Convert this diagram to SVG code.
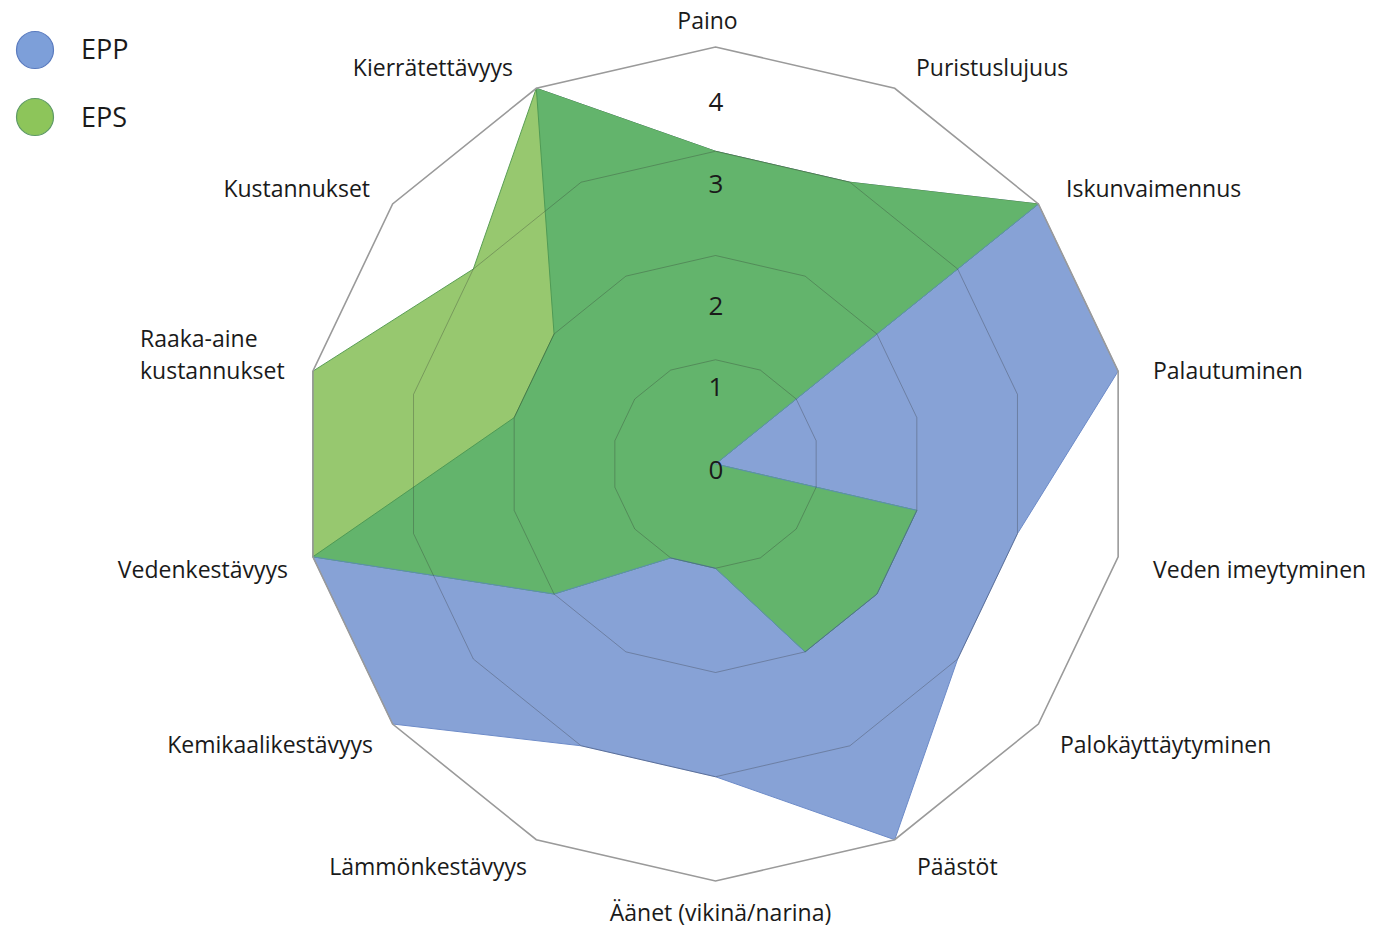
<svg xmlns="http://www.w3.org/2000/svg" width="1392" height="928" viewBox="0 0 1392 928">
<style>
.lbl{font-family:"Open Sans","Noto Sans","Liberation Sans",sans-serif;font-size:23px;fill:#1a1a1a}
.num{font-family:"Open Sans","Noto Sans","Liberation Sans",sans-serif;font-size:26px;fill:#1a1a1a;text-anchor:middle}
.leg{font-family:"Open Sans","Noto Sans","Liberation Sans",sans-serif;font-size:27px;fill:#1a1a1a}
.ring{fill:none;stroke:#303030;stroke-opacity:0.3;stroke-width:1}
.outer{fill:none;stroke:#9a9a9a;stroke-width:1.6}
</style>
<defs>
<clipPath id="eppClip">
<polygon points="715.5,151.25 849.9,182.21 1038.38,204 1118.14,371.2 1017.48,533.6 957.66,659 894.7,839.72 715.5,776.75 581.1,745.79 392.62,724 312.86,556.8 514.18,417.6 554.06,334 536.3,88.28"/>
</clipPath>
</defs>
<rect width="1392" height="928" fill="#ffffff"/>
<g id="series">
<polygon id="EPP" points="715.5,151.25 849.9,182.21 1038.38,204 1118.14,371.2 1017.48,533.6 957.66,659 894.7,839.72 715.5,776.75 581.1,745.79 392.62,724 312.86,556.8 514.18,417.6 554.06,334 536.3,88.28" fill="#87a2d6" stroke="#6d8bc8" stroke-width="1"/>
<polygon id="EPS" points="715.5,151.25 849.9,182.21 1038.38,204 715.5,464 916.82,510.4 876.94,594 805.1,651.86 715.5,568.25 670.7,557.93 554.06,594 312.86,556.8 312.86,371.2 473.34,269 536.3,88.28" fill="#97c86f" stroke="#5a9e55" stroke-width="1"/>
<polygon id="overlap" clip-path="url(#eppClip)" points="715.5,151.25 849.9,182.21 1038.38,204 715.5,464 916.82,510.4 876.94,594 805.1,651.86 715.5,568.25 670.7,557.93 554.06,594 312.86,556.8 312.86,371.2 473.34,269 536.3,88.28" fill="#63b46c"/>
<polyline points="312.86,556.8 514.18,417.6 554.06,334 536.3,88.28" fill="none" stroke="#4f9a55" stroke-width="1"/>
<polyline points="1038.38,204 715.5,464 916.82,510.4 876.94,594 805.1,651.86 715.5,568.25 670.7,557.93 554.06,594 312.86,556.8" fill="none" stroke="#5a8fb0" stroke-width="1"/>
</g>
<g id="grid">
<polygon class="ring" points="715.5,359.75 760.3,370.07 796.22,399 816.16,440.8 816.16,487.2 796.22,529 760.3,557.93 715.5,568.25 670.7,557.93 634.78,529 614.84,487.2 614.84,440.8 634.78,399 670.7,370.07"/>
<polygon class="ring" points="715.5,255.5 805.1,276.14 876.94,334 916.82,417.6 916.82,510.4 876.94,594 805.1,651.86 715.5,672.5 625.9,651.86 554.06,594 514.18,510.4 514.18,417.6 554.06,334 625.9,276.14"/>
<polygon class="ring" points="715.5,151.25 849.9,182.21 957.66,269 1017.48,394.4 1017.48,533.6 957.66,659 849.9,745.79 715.5,776.75 581.1,745.79 473.34,659 413.52,533.6 413.52,394.4 473.34,269 581.1,182.21"/>
<polygon class="outer" points="715.5,47 894.7,88.28 1038.38,204 1118.14,371.2 1118.14,556.8 1038.38,724 894.7,839.72 715.5,881 536.3,839.72 392.62,724 312.86,556.8 312.86,371.2 392.62,204 536.3,88.28"/>
</g>
<g id="scale">
<text class="num" x="716" y="111">4</text>
<text class="num" x="716" y="193">3</text>
<text class="num" x="716" y="315">2</text>
<text class="num" x="716" y="396">1</text>
<text class="num" x="716" y="479">0</text>
</g>
<g id="axis-labels">
<text id="lbl-paino" class="lbl" x="707.5" y="29" text-anchor="middle">Paino</text>
<text id="lbl-puristus" class="lbl" x="916" y="76">Puristuslujuus</text>
<text id="lbl-iskun" class="lbl" x="1066" y="197">Iskunvaimennus</text>
<text id="lbl-palaut" class="lbl" x="1153" y="379">Palautuminen</text>
<text id="lbl-vedenim" class="lbl" x="1153" y="578">Veden imeytyminen</text>
<text id="lbl-palok" class="lbl" x="1060" y="753">Palokäyttäytyminen</text>
<text id="lbl-paastot" class="lbl" x="917" y="875">Päästöt</text>
<text id="lbl-aanet" class="lbl" x="720.5" y="921" text-anchor="middle">Äänet (vikinä/narina)</text>
<text id="lbl-lammon" class="lbl" x="527" y="875" text-anchor="end">Lämmönkestävyys</text>
<text id="lbl-kemik" class="lbl" x="373" y="753" text-anchor="end">Kemikaalikestävyys</text>
<text id="lbl-vedenk" class="lbl" x="288" y="578" text-anchor="end">Vedenkestävyys</text>
<text id="lbl-raaka" class="lbl" x="140" y="347">Raaka-aine</text>
<text class="lbl" x="140" y="379">kustannukset</text>
<text id="lbl-kustan" class="lbl" x="370" y="197" text-anchor="end">Kustannukset</text>
<text id="lbl-kierr" class="lbl" x="513" y="76" text-anchor="end">Kierrätettävyys</text>
</g>
<g id="legend">
<g id="legend-epp">
<circle cx="35" cy="50" r="18.5" fill="#7d9fd9" stroke="#5a7bbf" stroke-width="1.2"/>
<text class="leg" x="81" y="59">EPP</text>
</g>
<g id="legend-eps">
<circle cx="35" cy="117" r="18.5" fill="#8dc55a" stroke="#5e9a65" stroke-width="1.2"/>
<text class="leg" x="81" y="127">EPS</text>
</g>
</g>
</svg>
